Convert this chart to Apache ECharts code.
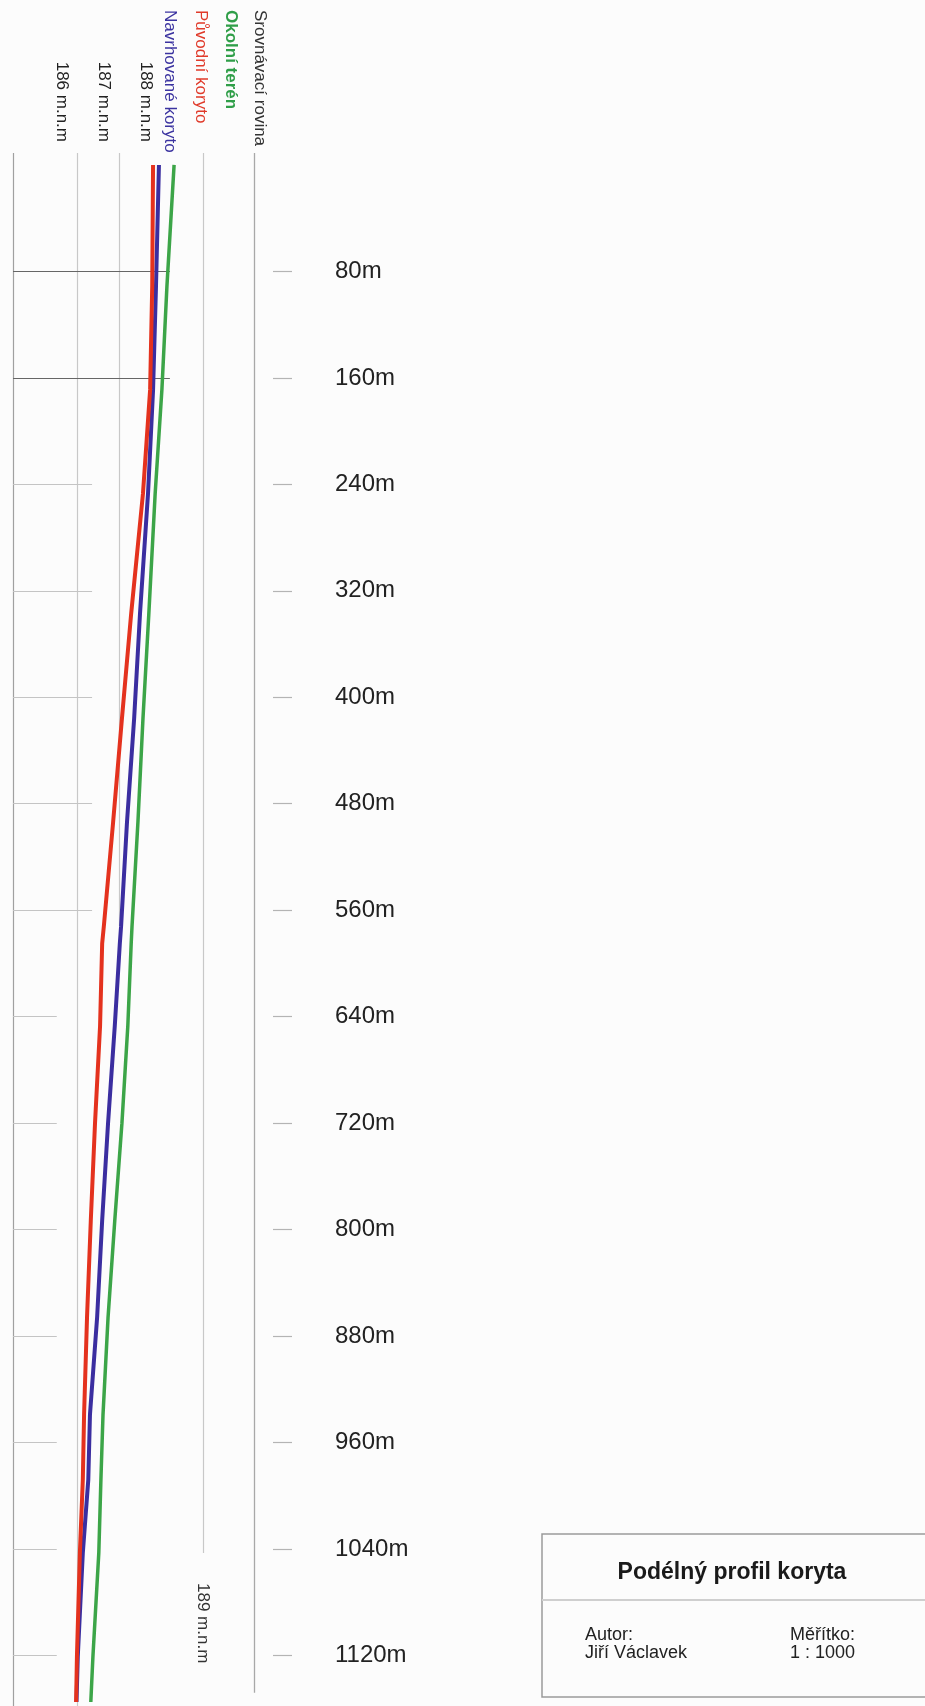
<!DOCTYPE html>
<html>
<head>
<meta charset="utf-8">
<script src="https://cdn.jsdelivr.net/npm/echarts@6/dist/echarts.min.js"></script>
<style>
  html, body { margin: 0; padding: 0; background: #fcfcfc; }
  #chart { width: 925px; height: 1706px; }
</style>
</head>
<body>
<div id="chart"></div>
<script>
// staničení profilu (m) - svislá osa, roste směrem dolů
const stations = [0, 91, 169, 247, 337, 416, 494, 572, 585, 647, 720, 793, 866, 939, 988, 1043, 1121, 1155]
// nadmořské výšky (m n.m.) odečtené z výkresu
const puvodniKoryto = [187.81, 187.79, 187.74, 187.57, 187.29, 187.07, 186.86, 186.64, 186.60, 186.55, 186.43, 186.33, 186.24, 186.17, 186.14, 186.07, 186.00, 185.98]
const navrhovaneKoryto = [187.95, 187.88, 187.81, 187.69, 187.50, 187.36, 187.19, 187.05, 187.02, 186.90, 186.74, 186.60, 186.48, 186.31, 186.27, 186.14, 186.02, 185.99]
const okolniTeren = [188.31, 188.14, 188.02, 187.86, 187.71, 187.57, 187.45, 187.31, 187.29, 187.21, 187.07, 186.90, 186.74, 186.62, 186.57, 186.52, 186.38, 186.33]

// popisky os
const distTicks = [80, 160, 240, 320, 400, 480, 560, 640, 720, 800, 880, 960, 1040, 1120]
const elevTicks = [186, 187, 188]

const FONT = '"Liberation Sans", Arial, sans-serif'
const X_MIN = 184.48, X_MAX = 190.21 // okraje výkresu
const Y_MIN = -9, Y_MAX = 1158

const chart = echarts.init(document.getElementById('chart'))

// pomocné čáry (mřížka)
function seg(x1, y1, x2, y2) {
    return { coords: [[x1, y1], [x2, y2]] }
}
function gridSeries(name, data, color, width) {
    return {
        name,
        type: 'lines',
        coordinateSystem: 'cartesian2d',
        silent: true,
        polyline: false,
        lineStyle: { color, width, opacity: 1, curveness: 0 },
        data,
    }
}
const hDark = distTicks.filter(d => d <= 160).map(d => seg(X_MIN, d, 188.21, d))
const hLight = distTicks.filter(d => d > 160).map(d => seg(X_MIN, d, d <= 560 ? 186.36 : 185.52, d))

function profile(name, values, color, width) {
    return {
        name,
        type: 'line',
        symbol: 'none',
        silent: true,
        lineStyle: { color, width },
        data: stations.map((d, i) => [values[i], d]),
    }
}

// svislý text (čte se shora dolů)
const rotLabel = (text, x, y, color, bold, align) => ({
    type: 'text',
    x, y,
    rotation: -Math.PI / 2,
    style: {
        text,
        fill: color,
        font: (bold ? 'bold ' : '') + '17px ' + FONT,
        align: align || 'left',
        verticalAlign: 'middle',
    },
})

const option = {
    backgroundColor: '#fcfcfc',
    animation: false,
    grid: { left: 13, right: 925 - 254, top: 153, bottom: 0 },
    xAxis: {
        type: 'value',
        position: 'top',
        min: X_MIN,
        max: X_MAX,
        axisLine: { show: false },
        axisTick: { show: false },
        splitLine: { show: false },
        axisLabel: { show: false },
    },
    yAxis: {
        type: 'value',
        inverse: true,
        position: 'right',
        offset: 19,
        min: Y_MIN,
        max: Y_MAX,
        axisLine: { show: false },
        splitLine: { show: false },
        axisTick: {
            show: true,
            customValues: distTicks,
            length: 19,
            lineStyle: { color: '#b4b4b4', width: 1.2 },
        },
        axisLabel: {
            customValues: distTicks,
            formatter: v => v + 'm',
            margin: 62,
            color: '#222',
            fontSize: 24,
            fontFamily: FONT,
        },
    },
    series: [
        gridSeries('okraj', [seg(X_MIN, Y_MIN, X_MIN, Y_MAX)], '#a0a0a0', 1.2),
        gridSeries('svisle', [
            seg(186, Y_MIN, 186, Y_MAX),
            seg(187, Y_MIN, 187, 572),
            seg(189, Y_MIN, 189, 1043),
        ], '#c8c8c8', 1.2),
        gridSeries('Srovnávací rovina', [seg(X_MAX, Y_MIN, X_MAX, 1148)], '#a8a8a8', 1.3),
        gridSeries('vodorovne', hLight, '#c4c4c4', 1.2),
        gridSeries('vodorovne80', hDark, '#666', 1.1),
        profile('Okolní terén', okolniTeren, '#3ca548', 3.5),
        profile('Navrhované koryto', navrhovaneKoryto, '#3b2ea0', 4),
        profile('Původní koryto', puvodniKoryto, '#e4321e', 4),
    ],
}

chart.setOption(option)

// popisky výšek nad osou (mírně vlevo od čar, jako ve výkresu)
const elevLabels = elevTicks.map(e => {
    const px = chart.convertToPixel({ gridIndex: 0 }, [e, Y_MIN])[0]
    return rotLabel(e + ' m.n.m', px - 15, 142, '#222', false, 'right')
})
const px189 = chart.convertToPixel({ gridIndex: 0 }, [189, Y_MIN])[0]

chart.setOption({
    graphic: elevLabels.concat([
        rotLabel('Navrhované koryto', 170, 10, '#3b33a0', false),
        rotLabel('Původní koryto', 201, 10, '#e03a2a', false),
        rotLabel('Okolní terén', 231, 10, '#2f9e48', true),
        rotLabel('Srovnávací rovina', 260, 10, '#333', false),
        rotLabel('189 m.n.m', px189, 1583, '#333', false),
        // rohové razítko
        {
            type: 'rect',
            shape: { x: 542, y: 1534, width: 420, height: 163 },
            style: { fill: '#fcfcfc', stroke: '#9a9a9a', lineWidth: 1.5 },
        },
        {
            type: 'line',
            shape: { x1: 542, y1: 1600, x2: 925, y2: 1600 },
            style: { stroke: '#cfcfcf', lineWidth: 2 },
        },
        {
            type: 'text', x: 732, y: 1573,
            style: { text: 'Podélný profil koryta', fill: '#1a1a1a', font: 'bold 23px ' + FONT, align: 'center', verticalAlign: 'middle' },
        },
        {
            type: 'text', x: 585, y: 1644,
            style: { text: 'Autor:\nJiří Václavek', fill: '#222', font: '18px ' + FONT, lineHeight: 18, align: 'left', verticalAlign: 'middle' },
        },
        {
            type: 'text', x: 790, y: 1644,
            style: { text: 'Měřítko:\n1 : 1000', fill: '#222', font: '18px ' + FONT, lineHeight: 18, align: 'left', verticalAlign: 'middle' },
        },
    ]),
})
</script>
</body>
</html>
